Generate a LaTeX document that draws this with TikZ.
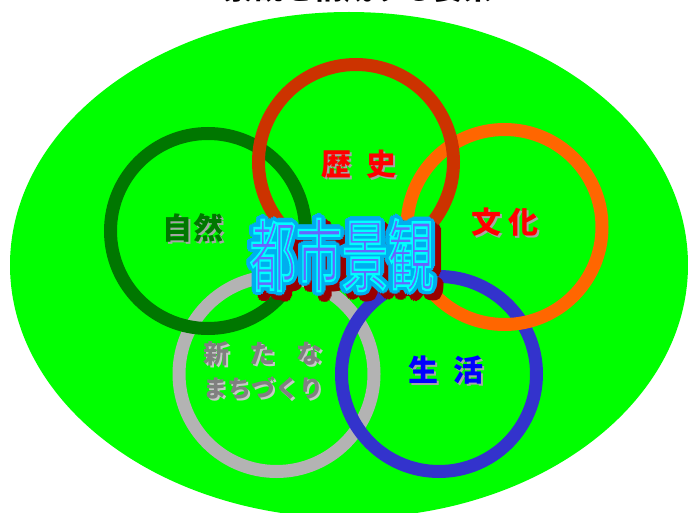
\documentclass[tikz,border=0pt]{standalone}
\usepackage{fontspec}
\usepackage{graphicx}
\usetikzlibrary{calc}
\newfontfamily\jp{Noto Sans CJK JP}
\definecolor{bggreen}{HTML}{00FF00}
\definecolor{dkgreen}{HTML}{007700}
\definecolor{rbrown}{HTML}{CC3300}
\definecolor{orng}{HTML}{FF6600}
\definecolor{ringgray}{HTML}{B3B3B3}
\definecolor{ringblue}{HTML}{3333CC}
\definecolor{shadowred}{HTML}{990000}
\definecolor{fillblue}{HTML}{6666FF}
\definecolor{txtgray}{HTML}{808080}
\definecolor{shgray}{HTML}{A6A6A6}
\definecolor{shlight}{HTML}{C8C8C8}
\tikzset{
  ring/.style={line width=13pt},
  lbl/.style={font=\jp\bfseries\fontsize{30}{30}\selectfont, inner sep=0pt, anchor=center},
  lblsmall/.style={font=\jp\bfseries\fontsize{26}{26}\selectfont, inner sep=0pt, anchor=center},
  bigtxt/.style={font=\jp\fontsize{46}{46}\selectfont, inner sep=0pt, anchor=center},
}
\newcommand\BigWord{\scalebox{1}[1.7]{都市景観}}
\newcommand\BigWordThin{\scalebox{1}[1.7]{\special{pdf:literal direct 0 1 1 RG 2 Tr 1.4 w}都市景観\special{pdf:literal direct 0 Tr}}}
\begin{document}
\begin{tikzpicture}[x=1pt,y=-1pt]
\useasboundingbox (0,0) rectangle (688,513);
\fill[white] (0,0) rectangle (688,513);
% title (partly cut off)
\node[font=\jp\bfseries\fontsize{30}{30}\selectfont, inner sep=0pt] (title) at (358,-12) {景観を構成する要素};
% background ellipse
\fill[bggreen] (349,265) ellipse [x radius=339, y radius=253];
% rings
\draw[ring, ringgray] (276.5,374) circle [radius=97.5];
\draw[ring, dkgreen] (208,231) circle [radius=97.5];
\draw[ring, ringblue] (439,374) circle [radius=97.5];
\draw[ring, orng] (504.5,227) circle [radius=97.5];
\draw[ring, rbrown] (356,162) circle [radius=97.5];
% labels with shadows
\node[lbl, shgray] (shA) at (195,230) {自\hspace{2pt}然};
\node[lbl, dkgreen] (labA) at (193,228) {自\hspace{2pt}然};
\node[lbl, shgray] (shB) at (361,166) {歴\hspace{16pt}史};
\node[lbl, red] (labB) at (359,164) {歴\hspace{16pt}史};
\node[lbl, shgray] (shC) at (507,224) {文\hspace{8pt}化};
\node[lbl, red] (labC) at (505,222) {文\hspace{8pt}化};
\node[lbl, shgray] (shD) at (448,372) {生\hspace{16pt}活};
\node[lbl, blue] (labD) at (446,370) {生\hspace{16pt}活};
\node[lblsmall, shlight] (shE) at (265,356) {新\hspace{21pt}た\hspace{21pt}な};
\node[lblsmall, txtgray] (labE) at (263,354) {新\hspace{21pt}た\hspace{21pt}な};
\node[lblsmall, shlight, font=\jp\bfseries\fontsize{24}{24}\selectfont] (shF) at (265,390) {まちづくり};
\node[lblsmall, txtgray, font=\jp\bfseries\fontsize{24}{24}\selectfont] (labF) at (263,388) {まちづくり};
% big central word: shadow, cyan halo, blue fill
\foreach \a in {0,22.5,...,337.5} {
  \node[bigtxt, shadowred] (sh\a) at ($(348,261)+(\a:5)$) {\BigWord};
}
\foreach \a in {0,22.5,...,337.5} {
  \node[bigtxt, cyan] (halo\a) at ($(342,255)+(\a:5)$) {\BigWord};
}
\foreach \a in {0,45,...,315} {
  \node[bigtxt, cyan] (haloi\a) at ($(342,255)+(\a:2.5)$) {\BigWord};
}
\node[bigtxt, fillblue] (bigword) at (342,255) {\BigWordThin};
\end{tikzpicture}
\end{document}
